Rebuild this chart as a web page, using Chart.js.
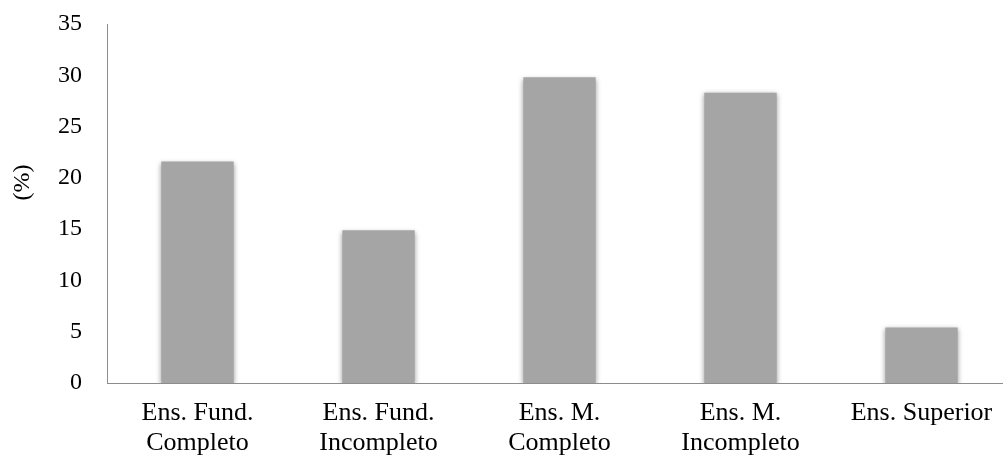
<!DOCTYPE html>
<html>
<head>
<meta charset="utf-8">
<script src="https://cdn.jsdelivr.net/npm/chart.js@4"></script>
<style>
  html, body { margin: 0; padding: 0; background: #fff; overflow: hidden; }
  #wrap { width: 1003px; height: 457px; overflow: hidden; }
  #box { width: 1014px; height: 457px; position: relative; }
</style>
</head>
<body>
<div id="wrap"><div id="box"><canvas id="grafico"></canvas></div></div>
<script>
const categorias = [
  ['Ens. Fund.', 'Completo'],
  ['Ens. Fund.', 'Incompleto'],
  ['Ens. M.', 'Completo'],
  ['Ens. M.', 'Incompleto'],
  'Ens. Superior'
];
const porcentajes = [21.6, 14.9, 29.8, 28.3, 5.4];
const ejeY = { min: 0, max: 35, paso: 5, titulo: '(%)' };

// sombra suave de las barras, como en el original
const sombra = {
  id: 'sombra',
  beforeDatasetDraw(chart) {
    const ctx = chart.ctx;
    ctx.save();
    ctx.shadowColor = 'rgba(0,0,0,0.4)';
    ctx.shadowBlur = 5;
    ctx.shadowOffsetX = 0;
    ctx.shadowOffsetY = 1.5;
  },
  afterDatasetDraw(chart) {
    chart.ctx.restore();
  }
};

const familia = '"Liberation Serif", "Times New Roman", serif';
const fuenteY = { family: familia, size: 24 };
const fuenteX = { family: familia, size: 26, lineHeight: 1.15 };

new Chart(document.getElementById('grafico'), {
  type: 'bar',
  data: {
    labels: categorias,
    datasets: [{
      data: porcentajes,
      backgroundColor: '#a5a5a5',
      borderWidth: 0,
      barPercentage: 0.4,
      categoryPercentage: 1
    }]
  },
  options: {
    responsive: true,
    maintainAspectRatio: false,
    animation: false,
    layout: { padding: { left: 8, right: 2, top: 24, bottom: 0 } },
    plugins: {
      legend: { display: false },
      tooltip: { enabled: false }
    },
    scales: {
      x: {
        grid: { display: false, drawTicks: false },
        border: { display: true, color: '#8c8c8c', width: 1 },
        ticks: { color: '#000', font: fuenteX, padding: 15, maxRotation: 0, autoSkip: false },
        afterFit(s) {
          s.height = 74;
          s.paddingLeft = 0;
          s.paddingRight = 0;
        }
      },
      y: {
        min: ejeY.min,
        max: ejeY.max,
        grid: { display: false, drawTicks: false },
        border: { display: true, color: '#8c8c8c', width: 1 },
        ticks: { stepSize: ejeY.paso, color: '#000', font: fuenteY, padding: 25 },
        title: {
          display: true,
          text: '       ' + ejeY.titulo,
          color: '#000',
          font: fuenteY,
          padding: { top: 0, bottom: 20 }
        },
        afterFit(s) {
          s.width = 99;
          s.paddingTop = 0;
          s.paddingBottom = 0;
        }
      }
    }
  },
  plugins: [sombra]
});
</script>
</body>
</html>
